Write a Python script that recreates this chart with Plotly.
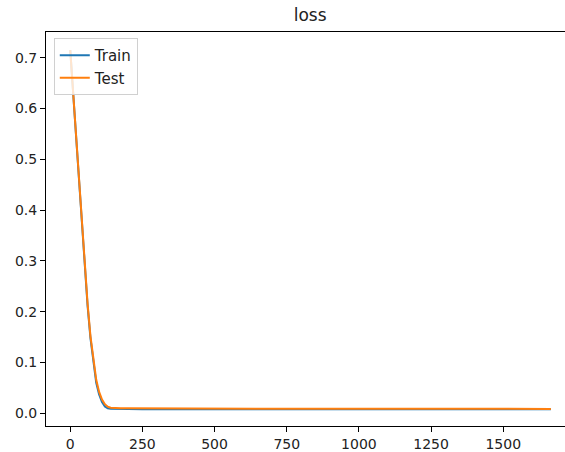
import plotly.graph_objects as go

epochs = [0, 10, 20, 30, 40, 50, 60, 70, 80, 90, 100, 110, 120, 130, 140, 150, 175, 200, 250,
          300, 400, 500, 750, 1000, 1250, 1500, 1665]
train_loss = [0.715, 0.630, 0.545, 0.460, 0.372, 0.288, 0.212, 0.148, 0.098, 0.060, 0.037, 0.022,
              0.0135, 0.0098, 0.0088, 0.0085, 0.0084, 0.0083, 0.0082, 0.0081, 0.0080, 0.0080,
              0.0079, 0.0079, 0.0078, 0.0078, 0.0078]
test_loss = [0.715, 0.630, 0.546, 0.462, 0.375, 0.291, 0.216, 0.152, 0.103, 0.066, 0.042, 0.027,
             0.0180, 0.0130, 0.0110, 0.0105, 0.0100, 0.0098, 0.0096, 0.0095, 0.0093, 0.0092,
             0.0090, 0.0089, 0.0088, 0.0087, 0.0087]
x_ticks = [0, 250, 500, 750, 1000, 1250, 1500]
y_ticks = [0.0, 0.1, 0.2, 0.3, 0.4, 0.5, 0.6, 0.7]

FONT = "DejaVu Sans"
fig = go.Figure()
fig.add_trace(go.Scatter(x=epochs, y=train_loss, mode="lines", name="Train", legendgroup="a",
                         line=dict(color="#1f77b4", width=2)))
fig.add_trace(go.Scatter(x=epochs, y=test_loss, mode="lines", name="Test", legendgroup="b",
                         line=dict(color="#ff7f0e", width=2)))

fig.update_layout(
    width=565, height=452,
    margin=dict(l=46, r=0, t=32, b=26),
    paper_bgcolor="white", plot_bgcolor="white",
    font=dict(family=FONT, size=14, color="#222"),
    title=dict(text="loss", x=0.509, xref="paper", xanchor="center",
               y=1 - 15 / 452, yref="container", yanchor="middle",
               font=dict(family=FONT, size=17, color="#222")),
    legend=dict(x=0.015, y=0.985, xanchor="left", yanchor="top",
                bgcolor="rgba(255,255,255,0.8)", bordercolor="#d0d0d0", borderwidth=1,
                font=dict(family=FONT, size=15, color="#222"),
                tracegroupgap=0, itemwidth=30),
    showlegend=True,
)
fig.update_xaxes(range=[-84, 1714], tickvals=x_ticks, showgrid=False, zeroline=False,
                 showline=True, linecolor="black", linewidth=1, mirror=True,
                 ticks="outside", ticklen=5, tickcolor="black", tickwidth=1,
                 tickfont=dict(family=FONT, size=14, color="#222"))
fig.update_yaxes(range=[-0.025, 0.7506], tickvals=y_ticks, tickformat=".1f",
                 showgrid=False, zeroline=False,
                 showline=True, linecolor="black", linewidth=1,
                 ticks="outside", ticklen=5, tickcolor="black", tickwidth=1,
                 tickfont=dict(family=FONT, size=14, color="#222"))

fig.write_html("out.html")
